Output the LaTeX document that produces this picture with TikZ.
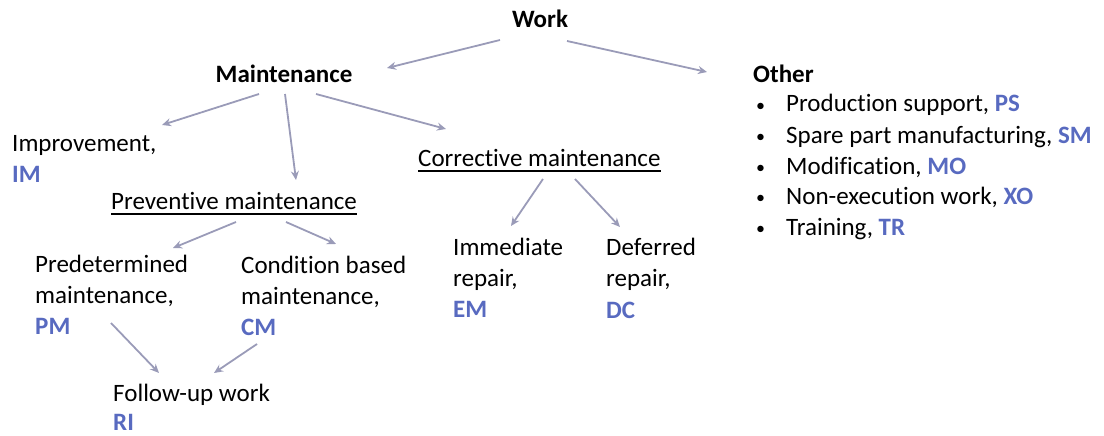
\documentclass[tikz,border=0pt]{standalone}
\usepackage{fontspec}
\setmainfont{Carlito}[RawFeature={-liga}]
\usetikzlibrary{arrows.meta,calc}
\definecolor{arrgray}{RGB}{154,155,184}
\definecolor{codeblue}{RGB}{88,106,192}
\newcommand{\code}[1]{\textcolor{codeblue}{\textbf{#1}}}
\newcommand{\blt}{\makebox[30pt][l]{\raisebox{1pt}{\fontsize{18}{18}\selectfont •}}}
\tikzset{
  txt/.style={inner sep=0pt, anchor=base west, font=\fontsize{25}{31}\selectfont},
  ctxt/.style={inner sep=0pt, anchor=base, font=\fontsize{25}{31}\selectfont},
  arr/.style={draw=arrgray, line width=1.8pt, -{Stealth[length=9pt,width=8pt]}},
  uline/.style={line width=1.6pt, black}
}
\begin{document}
\begin{tikzpicture}[x=1pt,y=-1pt]
\useasboundingbox (0,0) rectangle (1104,436);
% titles
\node[ctxt] (work) at (540,28) {\textbf{Work}};
\node[ctxt] (maint) at (284,82) {\textbf{Maintenance}};
\node[txt] (other) at (753,82) {\textbf{Other}};
% bullets
\node[txt] (b1) at (756,112) {\blt Production support, \code{PS}};
\node[txt] (b2) at (756,143) {\blt Spare part manufacturing, \code{SM}};
\node[txt] (b3) at (756,174) {\blt Modification, \code{MO}};
\node[txt] (b4) at (756,204) {\blt Non-execution work, \code{XO}};
\node[txt] (b5) at (756,235) {\blt Training, \code{TR}};
% level 2
\node[txt] (impr) at (12,151) {Improvement,};
\node[txt] (imc) at (12,182) {\code{IM}};
\node[txt] (corr) at (418,166) {Corrective maintenance};
\node[txt] (prev) at (111,209) {Preventive maintenance};
\draw[uline] ($(corr.base west)+(0,5)$) -- ($(corr.base east)+(0,5)$);
\draw[uline] ($(prev.base west)+(0,5)$) -- ($(prev.base east)+(0,5)$);
% level 3
\node[txt] (pred1) at (35,272) {Predetermined};
\node[txt] (pred2) at (35,303) {maintenance,};
\node[txt] (pred3) at (35,334) {\code{PM}};
\node[txt] (cond1) at (241,273) {Condition based};
\node[txt] (cond2) at (241,304) {maintenance,};
\node[txt] (cond3) at (241,335) {\code{CM}};
\node[txt] (imm1) at (453,255) {Immediate};
\node[txt] (imm2) at (453,286) {repair,};
\node[txt] (imm3) at (453,317) {\code{EM}};
\node[txt] (def1) at (606,255) {Deferred};
\node[txt] (def2) at (606,286) {repair,};
\node[txt] (def3) at (606,318) {\code{DC}};
\node[txt] (fol1) at (113,401) {Follow-up work};
\node[txt] (fol2) at (113,430) {\code{RI}};
% connector end points
\coordinate (wm0) at (500,40);  \coordinate (wm1) at (387,68);
\coordinate (wo0) at (567,41);  \coordinate (wo1) at (707,72);
\coordinate (mi0) at (259,94);  \coordinate (mi1) at (162,125);
\coordinate (mp0) at (285,94);  \coordinate (mp1) at (296,180);
\coordinate (mc0) at (316,94);  \coordinate (mc1) at (446,129);
\coordinate (pp0) at (236,222); \coordinate (pp1) at (173,248);
\coordinate (pc0) at (286,222); \coordinate (pc1) at (336,244);
\coordinate (ci0) at (543,179); \coordinate (ci1) at (511,226);
\coordinate (cd0) at (575,179); \coordinate (cd1) at (620,227);
\coordinate (pf0) at (111,323); \coordinate (pf1) at (159,373);
\coordinate (cf0) at (257,344); \coordinate (cf1) at (214,373);
\draw[arr] (wm0) -- (wm1);
\draw[arr] (wo0) -- (wo1);
\draw[arr] (mi0) -- (mi1);
\draw[arr] (mp0) -- (mp1);
\draw[arr] (mc0) -- (mc1);
\draw[arr] (pp0) -- (pp1);
\draw[arr] (pc0) -- (pc1);
\draw[arr] (ci0) -- (ci1);
\draw[arr] (cd0) -- (cd1);
\draw[arr] (pf0) -- (pf1);
\draw[arr] (cf0) -- (cf1);
\end{tikzpicture}
\end{document}
